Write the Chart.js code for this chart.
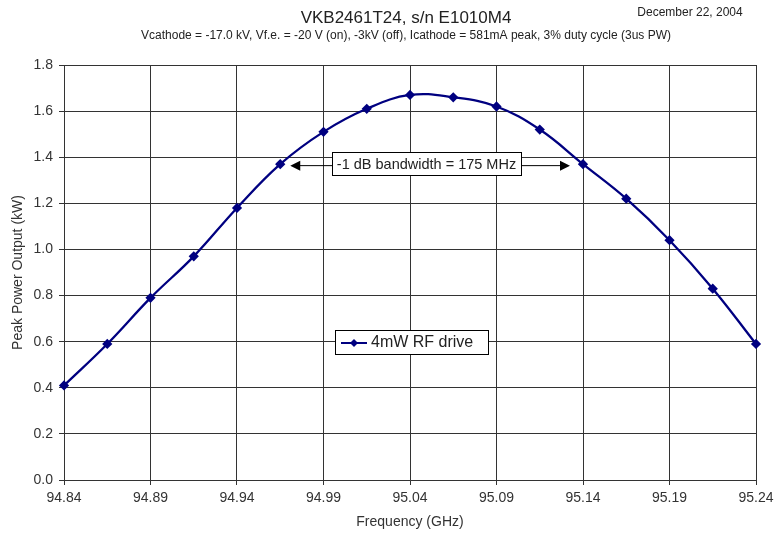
<!DOCTYPE html>
<html>
<head>
<meta charset="utf-8">
<script src="https://cdn.jsdelivr.net/npm/chart.js@4"></script>
<style>
  html, body { margin: 0; padding: 0; background: #fff; }
</style>
</head>
<body>
<canvas id="myChart" width="774" height="533"></canvas>
<script>
// frequency (GHz) and measured peak power (kW)
const frequencies = [94.84, 94.865, 94.89, 94.915, 94.94, 94.965, 94.99, 95.015, 95.04,
                     95.065, 95.09, 95.115, 95.14, 95.165, 95.19, 95.215, 95.24];
const peakPower = [0.41, 0.59, 0.79, 0.97, 1.18, 1.37, 1.51, 1.61, 1.67,
                   1.66, 1.62, 1.52, 1.37, 1.22, 1.04, 0.83, 0.59];
const xTicks = [94.84, 94.89, 94.94, 94.99, 95.04, 95.09, 95.14, 95.19, 95.24];
const yTicks = [0, 0.2, 0.4, 0.6, 0.8, 1.0, 1.2, 1.4, 1.6, 1.8];

// -1 dB bandwidth edges
const bandEdges = [94.965, 95.14];
const bandLevel = 1.37;

const titleText = 'VKB2461T24, s/n E1010M4';
const subtitleText = 'Vcathode = -17.0 kV, Vf.e. = -20 V (on), -3kV (off), Icathode = 581mA peak, 3% duty cycle (3us PW)';
const dateText = 'December 22, 2004';
const bandText = '-1 dB bandwidth = 175 MHz';
const seriesName = '4mW RF drive';

const navy = '#000080';
const FONT = '"Liberation Sans", Arial, Helvetica, sans-serif';

Chart.defaults.font.family = FONT;

const extras = {
  id: 'extras',
  afterDatasetsDraw(chart) {
    const ctx = chart.ctx;
    const xs = chart.scales.x, ys = chart.scales.y;
    ctx.save();

    // titles
    ctx.fillStyle = '#222';
    ctx.textAlign = 'center';
    ctx.textBaseline = 'middle';
    ctx.font = '17px ' + FONT;
    ctx.fillText(titleText, 406, 18);
    ctx.font = '12px ' + FONT;
    ctx.fillText(subtitleText, 406, 36);
    ctx.fillText(dateText, 690, 13);

    // bandwidth annotation
    const y = ys.getPixelForValue(bandLevel);
    const xl = xs.getPixelForValue(bandEdges[0]) + 10;
    const xr = xs.getPixelForValue(bandEdges[1]) - 13;
    ctx.font = '14.5px ' + FONT;
    const tw = ctx.measureText(bandText).width;
    const cx = (xl + xr) / 2 - 3;
    const bx = Math.round(cx - tw / 2 - 5), bw = Math.round(tw + 10), by = Math.round(y - 12), bh = 23;
    ctx.strokeStyle = '#000';
    ctx.fillStyle = '#000';
    ctx.lineWidth = 1;
    ctx.beginPath();
    ctx.moveTo(xl + 8, y + 1.5); ctx.lineTo(bx, y + 1.5);
    ctx.moveTo(bx + bw, y + 1.5); ctx.lineTo(xr - 8, y + 1.5);
    ctx.stroke();
    ctx.beginPath();
    ctx.moveTo(xl, y + 1.5); ctx.lineTo(xl + 10, y - 3.5); ctx.lineTo(xl + 10, y + 6.5); ctx.closePath();
    ctx.moveTo(xr, y + 1.5); ctx.lineTo(xr - 10, y - 3.5); ctx.lineTo(xr - 10, y + 6.5); ctx.closePath();
    ctx.fill();
    ctx.fillStyle = '#fff';
    ctx.fillRect(bx, by, bw, bh);
    ctx.strokeRect(bx + 0.5, by + 0.5, bw, bh);
    ctx.fillStyle = '#222';
    ctx.fillText(bandText, bx + bw / 2, by + bh / 2 + 1);

    // legend box
    const lx = 335, ly = 330, lw = 153, lh = 24;
    ctx.fillStyle = '#fff';
    ctx.fillRect(lx, ly, lw, lh);
    ctx.strokeStyle = '#000';
    ctx.strokeRect(lx + 0.5, ly + 0.5, lw, lh);
    const my = ly + lh / 2 + 1;
    ctx.strokeStyle = navy;
    ctx.lineWidth = 2;
    ctx.beginPath();
    ctx.moveTo(lx + 6, my); ctx.lineTo(lx + 32, my);
    ctx.stroke();
    ctx.fillStyle = navy;
    ctx.beginPath();
    ctx.moveTo(lx + 19, my - 4); ctx.lineTo(lx + 23, my); ctx.lineTo(lx + 19, my + 4); ctx.lineTo(lx + 15, my);
    ctx.closePath();
    ctx.fill();
    ctx.fillStyle = '#222';
    ctx.textAlign = 'left';
    ctx.font = '16px ' + FONT;
    ctx.fillText(seriesName, lx + 36, my);

    ctx.restore();
  }
};

const gridOpts = { color: '#333', lineWidth: 1, tickLength: 5, drawTicks: true };

new Chart(document.getElementById('myChart'), {
  type: 'line',
  data: {
    datasets: [{
      label: seriesName,
      data: frequencies.map((f, i) => ({ x: f, y: peakPower[i] })),
      borderColor: navy,
      backgroundColor: navy,
      borderWidth: 2.3,
      tension: 0.4,
      pointStyle: 'rectRot',
      pointRadius: 3.5,
      pointBackgroundColor: navy,
      pointBorderColor: navy,
      clip: false,
      fill: false
    }]
  },
  options: {
    responsive: false,
    animation: false,
    layout: { padding: { top: 65, right: 18, left: 0, bottom: 0 } },
    plugins: {
      legend: { display: false },
      tooltip: { enabled: false }
    },
    scales: {
      x: {
        type: 'linear',
        min: 94.84,
        max: 95.24,
        afterBuildTicks: axis => { axis.ticks = xTicks.map(v => ({ value: v })); },
        afterFit: axis => {
          axis.height = 53;
          axis.paddingLeft = 0;
          axis.paddingRight = 0;
        },
        ticks: {
          color: '#333',
          font: { size: 14 },
          padding: 5,
          maxRotation: 0,
          autoSkip: false,
          callback: v => v.toFixed(2)
        },
        grid: gridOpts,
        border: { color: '#333' },
        title: {
          display: true,
          text: 'Frequency (GHz)',
          color: '#333',
          font: { size: 14 },
          padding: { top: 0, bottom: 2 }
        }
      },
      y: {
        min: 0,
        max: 1.8,
        afterBuildTicks: axis => { axis.ticks = yTicks.map(v => ({ value: v })); },
        afterFit: axis => { axis.width = 64; },
        ticks: {
          color: '#333',
          font: { size: 14 },
          padding: 6,
          callback: v => v.toFixed(1)
        },
        grid: gridOpts,
        border: { color: '#333' },
        title: {
          display: true,
          text: 'Peak Power Output (kW)',
          color: '#333',
          font: { size: 14 },
          padding: { top: 10, bottom: 0 }
        }
      }
    }
  },
  plugins: [extras]
});
</script>
</body>
</html>
